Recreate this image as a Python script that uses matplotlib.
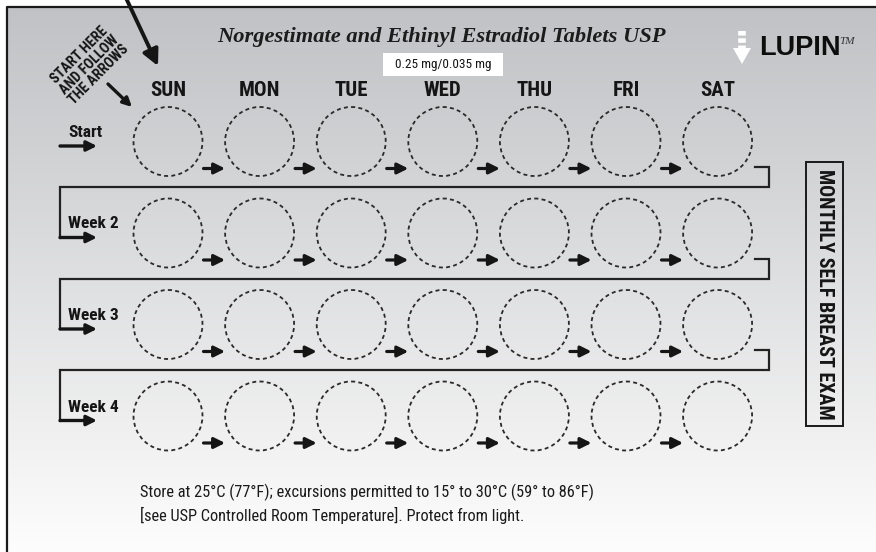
import numpy as np
import matplotlib.pyplot as plt
from matplotlib import font_manager as fm
from matplotlib.patches import Circle, Rectangle, Polygon

# ---- content ----
days = ["SUN", "MON", "TUE", "WED", "THU", "FRI", "SAT"]
row_labels = ["Start", "Week 2", "Week 3", "Week 4"]
title = "Norgestimate and Ethinyl Estradiol Tablets USP"
strength = "0.25 mg/0.035 mg"
brand = "LUPIN"
side_note = "MONTHLY SELF BREAST EXAM"
start_note = "START HERE\nAND FOLLOW\nTHE ARROWS"
storage = ["Store at 25\u00b0C (77\u00b0F); excursions permitted to 15\u00b0 to 30\u00b0C (59\u00b0 to 86\u00b0F)",
           "[see USP Controlled Room Temperature]. Protect from light."]

# ---- layout (pixel space of the card) ----
W, H = 876, 552
col0, col_step = 168, 91.6
row0, row_step = 141.5, 91.5
radius = 34.5
left_x, right_x = 60, 769

# pick a condensed sans if one is around, else DejaVu
installed = {f.name for f in fm.fontManager.ttflist}
narrow_pick = next((n for n in ["Roboto Condensed", "Archivo Narrow",
                                "Fira Sans Condensed", "IBM Plex Sans Condensed"]
                    if n in installed), "DejaVu Sans")
NARROW = [narrow_pick, "DejaVu Sans"]
INK = "#151515"

fig = plt.figure(figsize=(W / 100, H / 100), dpi=100)
ax = fig.add_axes([0, 0, 1, 1])
ax.set_xlim(0, W)
ax.set_ylim(H, 0)
ax.axis("off")

# card background: grey at the top fading to white
top = np.array([193, 194, 197]) / 255
bot = np.array([253, 253, 253]) / 255
t = np.linspace(0, 1, 300)[:, None, None]
grad = top * (1 - t) + bot * t
ax.imshow(grad, extent=(7, W, H, 7), aspect="auto", origin="upper", zorder=0)
ax.plot([7, 7, W], [H, 7, 7], color="#1a1a1a", lw=1.6, zorder=1)

xs = [col0 + i * col_step for i in range(len(days))]
ys = [row0 + j * row_step for j in range(len(row_labels))]


def arrow(x0, y0, x1, y1, lw=2.0, ms=14, color=INK):
    ax.annotate("", xy=(x1, y1), xytext=(x0, y0),
                arrowprops=dict(arrowstyle="-|>", color=color, lw=lw,
                                mutation_scale=ms, shrinkA=0, shrinkB=0))


# pill slots + arrows between them
for j, cy in enumerate(ys):
    for i, cx in enumerate(xs):
        ax.add_patch(Circle((cx, cy), radius, fill=False, ec="#2a2a2a",
                            lw=1.3, ls=(0, (2.2, 1.8)), zorder=3))
        if i < len(xs) - 1:
            arrow(cx + radius + 1, cy + 27, xs[i + 1] - radius, cy + 27, lw=2.3, ms=16)
    # row label and lead-in arrow
    ax.text(68, cy - 9, row_labels[j], family=NARROW, weight="bold",
            fontsize=12.5, color=INK, ha="left", va="center")
    arrow(left_x, cy + 4.5, 97, cy + 4.5, lw=2.4, ms=15)

# connectors between weeks
for j in range(len(ys) - 1):
    cy = ys[j]
    ax.plot([755, right_x, right_x, left_x, left_x],
            [cy + 25.5, cy + 25.5, cy + 45.5, cy + 45.5, ys[j + 1] + 4.5],
            color="#222222", lw=1.6, zorder=2, solid_joinstyle="miter")

# day headers
for cx, d in zip(xs, days):
    ax.text(cx, 90, d, family=NARROW, weight="bold", fontsize=15,
            color=INK, ha="center", va="center")

# title + strength box
ax.text(441, 37, title, family="Liberation Serif", style="italic",
        weight="bold", fontsize=16.2, color="#1c1c1c", ha="center", va="center")
ax.add_patch(Rectangle((383, 53), 120, 23, fc="white", ec="none", zorder=2))
ax.text(443, 64.5, strength, family=NARROW, fontsize=9.5, color=INK,
        ha="center", va="center", zorder=3)

# logo
ax.plot([742, 742], [31, 50], color="white", lw=5.5, ls=(0, (0.6, 0.35)),
        solid_capstyle="butt", zorder=3)
ax.add_patch(Polygon([[733, 48], [751, 48], [742, 64]], closed=True,
                     fc="white", ec="none", zorder=3))
ax.text(759, 48, brand, family="Liberation Sans", weight="bold",
        fontsize=19.5, color="#0d0d0d", ha="left", va="center")
ax.text(839, 41, "TM", family="Liberation Serif", style="italic",
        fontsize=8, color="#333333", ha="left", va="center")

# start note + arrows
ax.text(89, 65, start_note, family=NARROW, weight="bold", fontsize=10.3,
        color=INK, ha="center", va="center", rotation=45,
        multialignment="center", linespacing=0.95, rotation_mode="anchor")
arrow(108, 84, 132, 107, lw=2.4, ms=13)
arrow(126, -2, 158, 66, lw=2.8, ms=24)

# side box
ax.add_patch(Rectangle((806, 162), 37, 264, fill=False, ec="#1a1a1a", lw=1.4))
ax.text(824.5, 294, side_note, family=NARROW, weight="bold", fontsize=14.4,
        color=INK, ha="center", va="center", rotation=-90)

# storage text
for k, line in enumerate(storage):
    ax.text(140, 492 + k * 23.5, line, family=NARROW, fontsize=11.8,
            color="#1a1a1a", ha="left", va="center")

fig.savefig("out.png", dpi=100)
